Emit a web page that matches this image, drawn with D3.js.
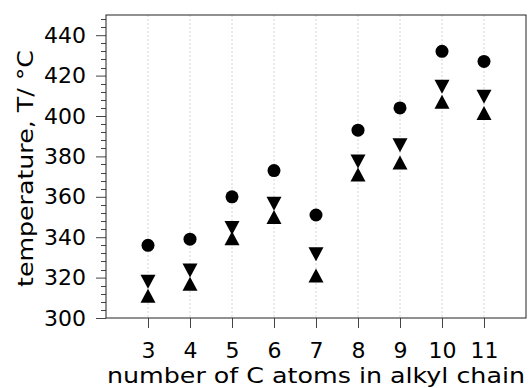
<!DOCTYPE html>
<html>
<head>
<meta charset="utf-8">
<script src="https://cdn.jsdelivr.net/npm/d3@7"></script>
<style>
  body { margin: 0; background: #fff; }
  text { font-family: "DejaVu Sans", sans-serif; fill: #000; }
</style>
</head>
<body>
<script>
// carbon atoms in the alkyl chain
const carbons = [3, 4, 5, 6, 7, 8, 9, 10, 11];
// temperatures, °C
const circleT = [336, 339, 360, 373, 351, 393, 404, 432, 427];
const downT = [318, 323.5, 344.5, 356.5, 331.5, 377.5, 385.5, 414.5, 409.5];
const upT = [311, 317, 339.5, 350, 321, 371, 377, 407, 401.5];
const yTicks = [300, 320, 340, 360, 380, 400, 420, 440];

const width = 529, height = 388;
const margin = { top: 15, right: 3, bottom: 70, left: 106 };
const font = "DejaVu Sans, sans-serif";

const svg = d3.select("body").append("svg")
  .attr("width", width)
  .attr("height", height);

const x = d3.scaleLinear().domain([2, 12]).range([margin.left, width - margin.right]);
const y = d3.scaleLinear().domain([300, 450]).range([height - margin.bottom, margin.top]);

// dotted grid at each category
svg.append("g")
  .selectAll("line")
  .data(carbons)
  .join("line")
  .attr("x1", d => x(d)).attr("x2", d => x(d))
  .attr("y1", y(450)).attr("y2", y(300))
  .attr("stroke", "#d4d4d4")
  .attr("stroke-width", 1)
  .attr("stroke-dasharray", "2,2");

// minor ticks on y
const minor = d3.range(300, 449, 4).filter(v => !yTicks.includes(v));
svg.append("g")
  .selectAll("line")
  .data(minor)
  .join("line")
  .attr("x1", x(2) - 5).attr("x2", x(2))
  .attr("y1", d => Math.round(y(d)) + 0.5).attr("y2", d => Math.round(y(d)) + 0.5)
  .attr("stroke", "#444");

// y axis
const yAxis = svg.append("g")
  .attr("transform", `translate(${x(2)},0)`)
  .call(d3.axisLeft(y).tickValues(yTicks).tickSize(10).tickPadding(10).tickFormat(d3.format("d")));
yAxis.select(".domain").remove();
yAxis.selectAll("line").attr("stroke", "#444");
yAxis.selectAll("text").attr("font-size", 22).style("font-family", font);

// x axis
const xAxis = svg.append("g")
  .attr("transform", `translate(0,${y(300)})`)
  .call(d3.axisBottom(x).tickValues(carbons).tickSize(10).tickPadding(14).tickFormat(d3.format("d")));
xAxis.select(".domain").remove();
xAxis.selectAll("line").attr("stroke", "#444");
xAxis.selectAll("text").attr("font-size", 22).style("font-family", font);

// frame
svg.append("rect")
  .attr("x", x(2)).attr("y", y(450))
  .attr("width", x(12) - x(2)).attr("height", y(300) - y(450))
  .attr("fill", "none")
  .attr("stroke", "#222")
  .attr("stroke-width", 1);

// markers
const tw = 15, th = 14;
const triDown = `M${-tw / 2},${-th / 2}L${tw / 2},${-th / 2}L0,${th / 2}Z`;
const triUp = `M${-tw / 2},${th / 2}L${tw / 2},${th / 2}L0,${-th / 2}Z`;

svg.append("g")
  .selectAll("circle")
  .data(carbons)
  .join("circle")
  .attr("cx", d => x(d))
  .attr("cy", (d, i) => y(circleT[i]))
  .attr("r", 6.5)
  .attr("fill", "#000");

svg.append("g")
  .selectAll("path")
  .data(carbons)
  .join("path")
  .attr("transform", (d, i) => `translate(${x(d)},${y(downT[i])})`)
  .attr("d", triDown)
  .attr("fill", "#000");

svg.append("g")
  .selectAll("path")
  .data(carbons)
  .join("path")
  .attr("transform", (d, i) => `translate(${x(d)},${y(upT[i])})`)
  .attr("d", triUp)
  .attr("fill", "#000");

// axis titles
svg.append("text")
  .attr("x", (x(2) + x(12)) / 2)
  .attr("y", 383)
  .attr("text-anchor", "middle")
  .attr("font-size", 22)
  .attr("textLength", 418)
  .attr("lengthAdjust", "spacingAndGlyphs")
  .text("number of C atoms in alkyl chain");

svg.append("text")
  .attr("transform", `translate(33,168.5) rotate(-90)`)
  .attr("text-anchor", "middle")
  .attr("font-size", 22)
  .attr("textLength", 237)
  .attr("lengthAdjust", "spacingAndGlyphs")
  .text("temperature, T/ °C");
</script>
</body>
</html>
